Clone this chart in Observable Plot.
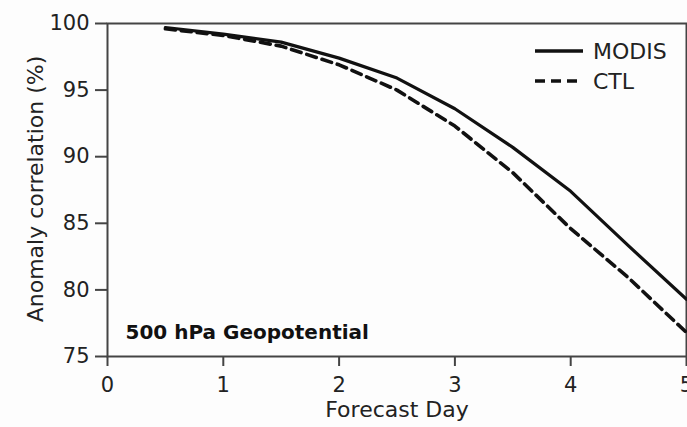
<!DOCTYPE html>
<html>
<head>
<meta charset="utf-8">
<script src="https://cdn.jsdelivr.net/npm/d3@7"></script>
<script src="https://cdn.jsdelivr.net/npm/@observablehq/plot@0.6"></script>
<style>
  html, body { margin: 0; padding: 0; background: #fdfdfd; }
</style>
</head>
<body>
<div id="chart"></div>
<script>
const days = [0.5, 1, 1.5, 2, 2.5, 3, 3.5, 4, 4.5, 5];
const modis = [99.7, 99.2, 98.6, 97.4, 95.9, 93.6, 90.7, 87.4, 83.3, 79.3];
const ctl   = [99.6, 99.1, 98.3, 96.9, 95.0, 92.3, 88.8, 84.6, 80.9, 76.8];
const seriesNames = ["MODIS", "CTL"];
const xTicks = [0, 1, 2, 3, 4, 5];
const yTicks = [75, 80, 85, 90, 95, 100];
const annotation = ["500 hPa Geopotential"];

const rows = [];
days.forEach((d, i) => {
  rows.push({day: d, value: modis[i], series: "MODIS"});
  rows.push({day: d, value: ctl[i], series: "CTL"});
});

const ink = "#111";
const axisInk = "#444";
const font = "DejaVu Sans, Liberation Sans, sans-serif";

function legend(index, scales, values, dims) {
  const g = d3.create("svg:g");
  const x0 = dims.width - dims.marginRight - 151;
  seriesNames.forEach((name, i) => {
    const y = dims.marginTop + 28 + i * 30;
    g.append("line")
      .attr("x1", x0).attr("x2", x0 + 48)
      .attr("y1", y).attr("y2", y)
      .attr("stroke", ink).attr("stroke-width", 3.5)
      .attr("stroke-dasharray", i === 0 ? null : "10,6");
    g.append("text")
      .attr("x", x0 + 58).attr("y", y).attr("dy", "0.36em")
      .attr("text-anchor", "start")
      .attr("fill", "#222").attr("font-size", 22)
      .attr("font-family", font)
      .text(name);
  });
  return g.node();
}

const chart = Plot.plot({
  width: 687,
  height: 427,
  marginLeft: 107,
  marginTop: 23,
  marginRight: 1,
  marginBottom: 71,
  style: {fontFamily: font, fontSize: "21px", color: "#222", background: "#fdfdfd"},
  x: {domain: [0, 5]},
  y: {domain: [75, 100]},
  marks: [
    Plot.axisY({ticks: yTicks, tickFormat: "d", tickSize: 12, tickPadding: 6, stroke: axisInk, strokeWidth: 2,
      label: null, fontSize: 21}),
    Plot.axisX({ticks: xTicks, tickFormat: "d", tickSize: 10, tickPadding: 11, stroke: axisInk, strokeWidth: 2,
      label: null, fontSize: 21}),
    Plot.text(["Forecast Day"], {text: d => d, frameAnchor: "bottom", dy: 60, fontSize: 22, fill: "#222"}),
    Plot.text(["Anomaly correlation (%)"], {text: d => d, frameAnchor: "left", textAnchor: "middle", rotate: -90, dx: -72, dy: -1, fontSize: 22, fill: "#222"}),
    Plot.frame({stroke: axisInk, strokeWidth: 2}),
    Plot.line(rows.filter(r => r.series === "CTL"), {x: "day", y: "value", stroke: ink, strokeWidth: 3.6, strokeDasharray: "10,6"}),
    Plot.line(rows.filter(r => r.series === "MODIS"), {x: "day", y: "value", stroke: ink, strokeWidth: 3.2}),
    Plot.text(annotation, {text: d => d, frameAnchor: "bottom-left", textAnchor: "start", dx: 18, dy: -18, fontWeight: "bold", fontSize: 20, fill: "#111"}),
    legend
  ]
});
document.getElementById("chart").appendChild(chart);
</script>
</body>
</html>
